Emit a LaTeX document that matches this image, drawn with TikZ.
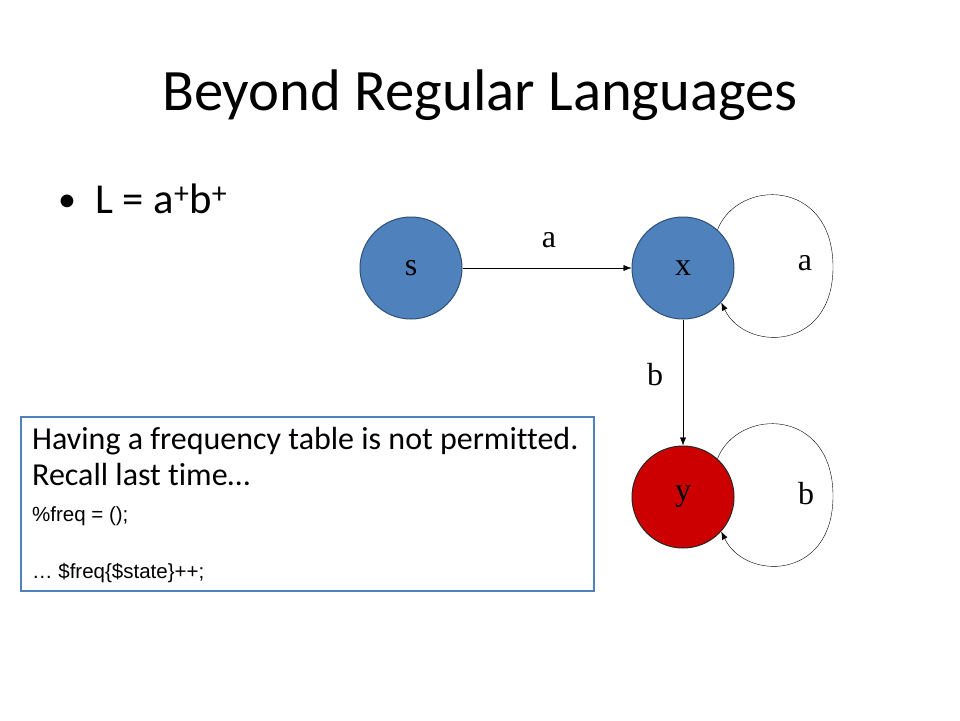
\documentclass[tikz,border=0pt]{standalone}
\usepackage{fontspec}
\setmainfont{Carlito}[Ligatures=NoCommon]
\newfontfamily\serifa{Liberation Serif}
\newfontfamily\arial{Liberation Sans}
\usetikzlibrary{arrows.meta}
\definecolor{azul}{HTML}{4F81BD}
\definecolor{azulborde}{HTML}{2F4F75}
\definecolor{rojo}{HTML}{CC0000}
\tikzset{
  estado/.style={circle, draw=azulborde, line width=1pt, fill=azul, minimum size=102pt, inner sep=0pt,
    font=\serifa\fontsize{32}{36}\selectfont},
  etiqueta/.style={font=\serifa\fontsize{32}{36}\selectfont},
  texto/.style={anchor=base west, inner sep=0pt},
}
\begin{document}
\begin{tikzpicture}[x=1pt,y=-1pt,>={Latex[length=8pt,width=6pt]}]
        \useasboundingbox (0,0) rectangle (960,720);

        % Titulo
        \node[anchor=base] (titulo) at (480,110) {\fontsize{58.67}{70}\selectfont Beyond Regular Languages};

        % Lista
        \node[texto] (punto) at (58,211) {\fontsize{36}{40}\selectfont •};
        \node[texto] (lenguaje) at (95,213) {\fontsize{42.67}{50}\selectfont L = a\textsuperscript{+}b\textsuperscript{+}};

        % Estados
        \node[estado] (s) at (411,268) {s};
        \node[estado] (x) at (683,268) {x};
        \node[estado, fill=rojo, draw=black!85] (y) at (683,497) {y};

        % Transiciones
        \draw[->] (s) -- (x);
        \node[etiqueta] (la) at (549,240) {a};
        \draw[->] (x) -- (y);
        \node[etiqueta] (lb) at (655,375) {b};

        % Bucles
        \draw[->] (x.48) .. controls (738,178) and (833,178) .. (833,267)
                  .. controls (833,352) and (745,352) .. (x.-42);
        \node[etiqueta] (lxa) at (805,263) {a};
        \draw[->] (y.48) .. controls (738,407) and (833,407) .. (833,496)
                  .. controls (833,581) and (745,581) .. (y.-42);
        \node[etiqueta] (lyb) at (806,494) {b};

        % Nota
        \node[draw=azul, line width=2pt, minimum width=573pt, minimum height=174pt,
              anchor=north west, inner sep=0pt] (caja) at (20,416) {};
        \node[texto] (linea1) at (32,449) {\fontsize{32}{38}\selectfont Having a frequency table is not permitted.};
        \node[texto] (linea2) at (32,485) {\fontsize{32}{38}\selectfont Recall last time…};
        \node[texto] (linea3) at (32,521) {\arial\fontsize{20.5}{24}\selectfont \%freq = ();};
        \node[texto] (linea4) at (32,578) {\arial\fontsize{20.5}{24}\selectfont … \$freq\{\$state\}++;};
\end{tikzpicture}
\end{document}
